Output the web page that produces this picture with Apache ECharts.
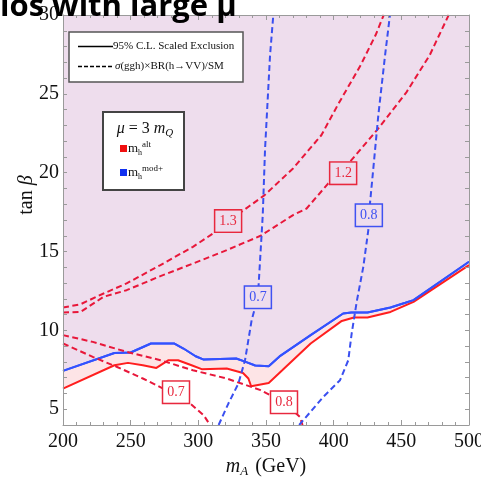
<!DOCTYPE html>
<html><head><meta charset="utf-8">
<script src="https://cdn.jsdelivr.net/npm/echarts@6/dist/echarts.min.js"></script>
<style>html,body{margin:0;padding:0;background:#fff}#c{width:481px;height:478px}</style>
</head><body><div id="c"></div>
<script>
// ---- data ----
const xTicks = [200, 250, 300, 350, 400, 450, 500];
const yTicks = [5, 10, 15, 20, 25, 30];

// 95% C.L. scaled exclusion, mh mod+ (blue, solid)
const blueSolidX = [200, 238, 250, 265, 282, 289, 298, 304, 328, 335, 342, 352, 360, 383, 407, 413, 425, 442, 453, 459, 500];
const blueSolidY = [7.43, 8.57, 8.6, 9.17, 9.17, 8.85, 8.36, 8.15, 8.22, 8.0, 7.77, 7.73, 8.35, 9.7, 11.07, 11.13, 11.13, 11.45, 11.75, 11.92, 14.35];
// 95% C.L. scaled exclusion, mh alt (red, solid)
const redSolidX = [200, 238, 248, 259, 269, 278, 285, 295, 302.5, 321, 333, 337, 339, 352, 362, 383, 406, 415, 425, 442, 459, 500];
const redSolidY = [6.31, 7.79, 7.94, 7.79, 7.62, 8.11, 8.11, 7.79, 7.54, 7.58, 7.30, 6.95, 6.46, 6.67, 7.47, 9.17, 10.6, 10.82, 10.82, 11.17, 11.81, 14.14];

// sigma x BR / SM contours (dashed)
const red13X = [200, 213, 230, 247, 272, 296, 311, 322, 338, 349, 370, 391, 403, 420, 431, 437];
const red13Y = [11.45, 11.66, 12.34, 12.98, 14.14, 15.30, 16.15, 16.9, 17.9, 18.58, 20.27, 22.39, 24.29, 26.83, 28.73, 30];
const red12X = [200, 213, 230, 247, 272, 296, 321, 346, 370, 380, 396, 407, 412, 432, 454, 471, 485];
const red12Y = [11.13, 11.17, 12.13, 12.55, 13.44, 14.24, 15.09, 16.0, 17.31, 17.73, 19.32, 20.0, 20.69, 22.70, 25.13, 27.46, 30];
const red08X = [200, 222, 247, 272, 296, 321, 346, 363, 375, 377];
const red08Y = [9.70, 9.27, 8.64, 8.11, 7.47, 6.95, 6.21, 5.44, 4.51, 4];
const red07X = [200, 222, 240, 259, 274, 283.5, 294, 304, 308.6];
const red07Y = [9.17, 8.32, 7.68, 6.95, 6.31, 6.08, 5.36, 4.62, 4];
const blue07X = [315, 322.2, 329.6, 334.5, 339.4, 344, 346.8, 347.6, 349.3, 353, 355.4];
const blue07Y = [4, 5.36, 6.63, 8.11, 10.65, 12.1, 16.15, 17.31, 21.5, 27.46, 30];
const blue08X = [374.5, 392.3, 404.7, 410.8, 413.3, 417, 421.9, 425.6, 426, 427.3, 429.3, 433, 438, 441.6];
const blue08Y = [4, 5.78, 6.84, 8.11, 9.8, 11.8, 14.03, 16.36, 17.3, 18.47, 20.27, 23.65, 27.46, 30];

// contour labels
const labelText = ['1.3', '1.2', '0.7', '0.8', '0.7', '0.8'];
const labelX = [322, 407, 344, 426, 283.5, 363.3];
const labelY = [16.93, 19.97, 12.1, 17.3, 6.08, 5.44];
const labelKind = ['red', 'red', 'blue', 'blue', 'red', 'red'];
const labelOnLavender = [true, true, true, true, false, false];

// ---- styles ----
const LAV = '#eedded', PINK = '#fde4e6';
const RED = '#ff1e1e', BLUE = '#3352ff';
const RED_D = '#e8173a', BLUE_D = '#3a4ff0';
const SERIF = '"Liberation Serif","DejaVu Serif",serif';
const FRAME = '#9a9a9a';

const zip = (xs, ys) => xs.map((x, i) => [x, ys[i]]);

function dashed(name, xs, ys, color) {
  return {
    name, type: 'line', data: zip(xs, ys), showSymbol: false, smooth: false,
    lineStyle: { color, width: 2, type: [6, 3.5] }, z: 3, silent: true
  };
}

const chart = echarts.init(document.getElementById('c'), null, { renderer: 'canvas' });

const axisCommon = {
  axisLine: { show: true, lineStyle: { color: FRAME, width: 1 } },
  splitLine: { show: false },
  z: 10
};

const staticGraphics = [
    { type: 'text', left: 0, top: -8, z: 20,
      style: { text: 'ios with large μ', font: 'bold 31px "Open Sans", sans-serif', fill: '#000' } },
    { type: 'text', x: 27, y: 195, rotation: Math.PI / 2, z: 20,
      style: { text: '{r|tan }{i|β}', align: 'center', verticalAlign: 'middle',
        rich: { r: { fontSize: 20, fontFamily: SERIF, fill: '#111' },
                i: { fontSize: 20, fontFamily: SERIF, fontStyle: 'italic', fill: '#111' } } } },
    // legend 1
    { type: 'rect', shape: { x: 69, y: 32, width: 174, height: 50 }, z: 20,
      style: { fill: '#fff', stroke: '#555', lineWidth: 1.5 } },
    { type: 'line', shape: { x1: 78, y1: 46.5, x2: 113, y2: 46.5 }, z: 21, style: { stroke: '#000', lineWidth: 1.5 } },
    { type: 'line', shape: { x1: 78, y1: 66.5, x2: 113, y2: 66.5 }, z: 21, style: { stroke: '#000', lineWidth: 1.5, lineDash: [4, 2] } },
    { type: 'text', x: 113, y: 46.5, z: 21,
      style: { text: '95% C.L. Scaled Exclusion', font: '11px ' + SERIF, fill: '#111', verticalAlign: 'middle' } },
    { type: 'text', x: 115, y: 66.5, z: 21,
      style: { text: '{i|σ}(ggh)×BR(h→VV)/SM', verticalAlign: 'middle',
        rich: { i: { fontSize: 11, fontFamily: SERIF, fontStyle: 'italic', fill: '#111' } },
        font: '11px ' + SERIF, fill: '#111' } },
    // legend 2
    { type: 'rect', shape: { x: 103, y: 112, width: 81, height: 78 }, z: 20,
      style: { fill: '#fff', stroke: '#444', lineWidth: 2 } },
    { type: 'text', x: 145, y: 129, z: 21,
      style: { text: '{i|μ} = 3 {i|m}{s|Q}', align: 'center', verticalAlign: 'middle', font: '16px ' + SERIF, fill: '#111',
        rich: { i: { fontSize: 16, fontFamily: SERIF, fontStyle: 'italic', fill: '#111' },
                s: { fontSize: 11, fontFamily: SERIF, fontStyle: 'italic', fill: '#111', padding: [8, 0, 0, 0] } } } },
    { type: 'rect', shape: { x: 120, y: 145, width: 7, height: 7 }, z: 21, style: { fill: '#f01010' } },
    { type: 'text', x: 128, y: 149, z: 21,
      style: { text: 'm{s|h}{p|alt}', verticalAlign: 'middle', font: '13px ' + SERIF, fill: '#111',
        rich: { s: { fontSize: 8, fontFamily: SERIF, fill: '#111', padding: [7, 0, 0, 0] },
                p: { fontSize: 9, fontFamily: SERIF, fill: '#111', padding: [0, 0, 9, 0] } } } },
    { type: 'rect', shape: { x: 120, y: 169, width: 7, height: 7 }, z: 21, style: { fill: '#1030f0' } },
    { type: 'text', x: 128, y: 173, z: 21,
      style: { text: 'm{s|h}{p|mod+}', verticalAlign: 'middle', font: '13px ' + SERIF, fill: '#111',
        rich: { s: { fontSize: 8, fontFamily: SERIF, fill: '#111', padding: [7, 0, 0, 0] },
                p: { fontSize: 9, fontFamily: SERIF, fill: '#111', padding: [0, 0, 9, 0] } } } }
];

chart.setOption({
  animation: false,
  grid: { left: 63, right: 12, top: 15, bottom: 53, show: true, backgroundColor: LAV, borderWidth: 0,
          containLabel: false, outerBoundsMode: 'none' },
  xAxis: [
    Object.assign({
      type: 'value', min: 200, max: 500, interval: 50, position: 'bottom',
      axisTick: { inside: true, length: 5, lineStyle: { color: FRAME } },
      minorTick: { show: true, splitNumber: 5, length: 3, lineStyle: { color: FRAME } },
      axisLabel: { color: '#111', fontSize: 20, fontFamily: SERIF, margin: 7, customValues: xTicks },
      name: '{it|m}{sub|A} (GeV)', nameLocation: 'middle', nameGap: 30,
      nameTextStyle: {
        color: '#111', fontSize: 20, fontFamily: SERIF,
        rich: { it: { fontStyle: 'italic', fontSize: 20, fontFamily: SERIF, color: '#111' },
                sub: { fontStyle: 'italic', fontSize: 13, fontFamily: SERIF, color: '#111', padding: [10, 2, 0, 0] } }
      }
    }, axisCommon),
    Object.assign({
      type: 'value', min: 200, max: 500, interval: 50, position: 'top',
      axisTick: { inside: true, length: 5, lineStyle: { color: FRAME } },
      minorTick: { show: true, splitNumber: 5, length: 3, lineStyle: { color: FRAME } },
      axisLabel: { show: false }
    }, axisCommon)
  ],
  yAxis: [
    Object.assign({
      type: 'value', min: 4, max: 30, interval: 1, position: 'left',
      axisTick: { inside: true, length: 4, lineStyle: { color: FRAME } },
      axisLabel: { color: '#111', fontSize: 20, fontFamily: SERIF, margin: 4,
        formatter: v => (yTicks.indexOf(v) >= 0 ? String(v) : '') }
    }, axisCommon),
    Object.assign({
      type: 'value', min: 4, max: 30, interval: 1, position: 'right',
      axisTick: { inside: true, length: 4, lineStyle: { color: FRAME } },
      axisLabel: { show: false }
    }, axisCommon)
  ],
  series: [
    {
      name: 'mh mod+ exclusion', type: 'line', data: zip(blueSolidX, blueSolidY), showSymbol: false,
      lineStyle: { color: BLUE, width: 2 }, areaStyle: { color: PINK, opacity: 1, origin: 'start' }, z: 1, silent: true
    },
    {
      name: 'mh alt exclusion', type: 'line', data: zip(redSolidX, redSolidY), showSymbol: false,
      lineStyle: { color: RED, width: 2 }, areaStyle: { color: '#ffffff', opacity: 1, origin: 'start' }, z: 2, silent: true
    },
    {
      name: 'blue line redraw', type: 'line', data: zip(blueSolidX, blueSolidY), showSymbol: false,
      lineStyle: { color: BLUE, width: 2 }, z: 2, silent: true
    },
    dashed('1.3', red13X, red13Y, RED_D),
    dashed('1.2', red12X, red12Y, RED_D),
    dashed('0.8 alt', red08X, red08Y, RED_D),
    dashed('0.7 alt', red07X, red07Y, RED_D),
    dashed('0.7 mod+', blue07X, blue07Y, BLUE_D),
    dashed('0.8 mod+', blue08X, blue08Y, BLUE_D)
  ],
  graphic: staticGraphics
});

// contour labels placed through the chart's own scales
const labelGraphics = labelText.map((t, i) => {
  const p = chart.convertToPixel({ gridIndex: 0 }, [labelX[i], labelY[i]]);
  const col = labelKind[i] === 'red' ? '#e8283e' : '#3f52f2';
  return {
    type: 'text', x: p[0], y: p[1], z: 30,
    style: {
      text: t, align: 'center', verticalAlign: 'middle', font: '14px ' + SERIF, fill: col,
      backgroundColor: labelOnLavender[i] ? LAV : '#ffffff', borderColor: col, borderWidth: 1.5,
      padding: [4, 4, 3, 4]
    }
  };
});
chart.setOption({ graphic: staticGraphics.concat(labelGraphics) });
</script>
</body></html>
